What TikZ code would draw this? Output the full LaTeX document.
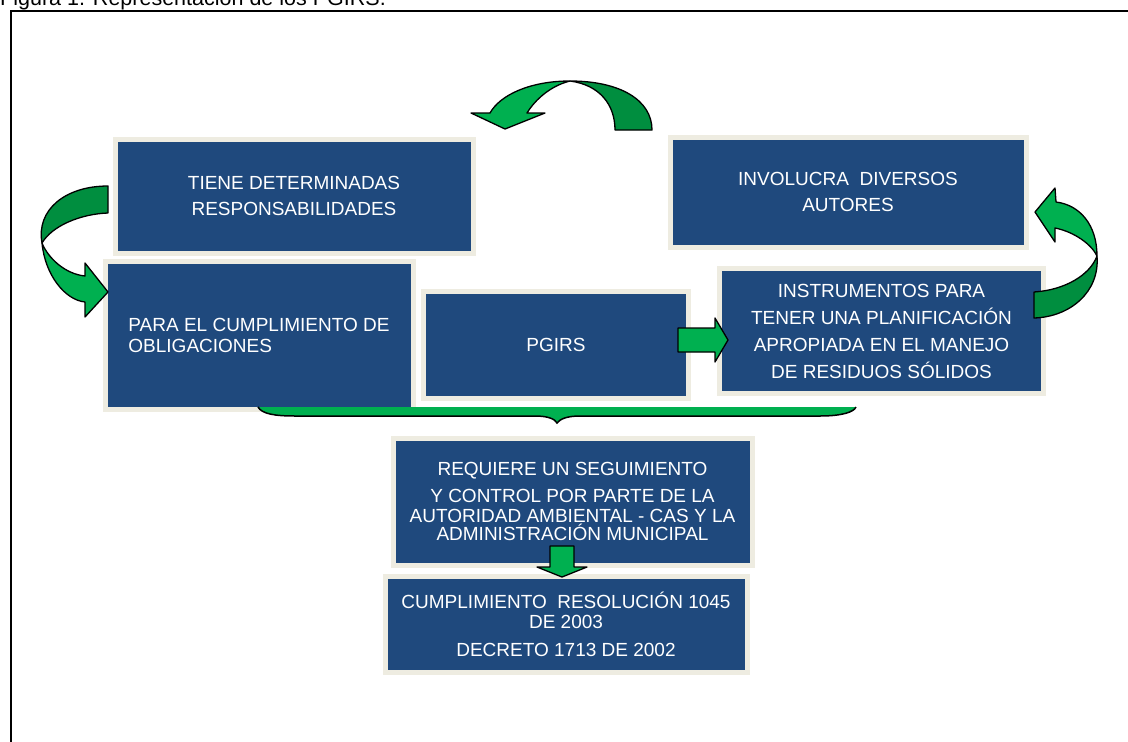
\documentclass[tikz,border=0pt]{standalone}
\usepackage{fontspec}
\setmainfont{Liberation Sans}
\definecolor{boxblue}{HTML}{1F497D}
\definecolor{boxrim}{HTML}{EEECE1}
\definecolor{lgreen}{HTML}{00B050}
\definecolor{dgreen}{HTML}{008E3F}
\tikzset{
  pbox/.style={draw=boxrim, line width=5pt, fill=boxblue, text=white, inner sep=0pt, align=center, font=\fontsize{19}{26}\selectfont},
  gfront/.style={draw=black, line width=1.3pt, line join=round, fill=lgreen},
  gback/.style={draw=black, line width=1.3pt, line join=round, fill=dgreen},
}
\begin{document}
\begin{tikzpicture}[x=1pt,y=-1pt]
\useasboundingbox (0,0) rectangle (1128,742);
\clip (0,0) rectangle (1128,742);
\fill[white] (0,0) rectangle (1128,742);
% title and frame
\node[anchor=base west, inner sep=0pt, font=\fontsize{21.5}{21.5}\selectfont] (title) at (0,5) {Figura 1. Representación de los PGIRS.};
\draw[line width=2pt] (11,760) -- (11,11) -- (1140,11);

% boxes
\node[pbox, minimum width=358pt, minimum height=114pt] (tiene) at (294,196) {TIENE DETERMINADAS\\RESPONSABILIDADES};
\node[pbox, minimum width=356pt, minimum height=110pt] (invol) at (848,192) {INVOLUCRA~~DIVERSOS\\AUTORES};
\node[pbox, minimum width=308pt, minimum height=148pt, align=left, font=\fontsize{19}{21}\selectfont] (para) at (259,335) {PARA EL CUMPLIMIENTO DE\\OBLIGACIONES};
\node[pbox, minimum width=265pt, minimum height=107pt] (pgirs) at (556,344.5) {PGIRS};
\node[pbox, minimum width=324pt, minimum height=125pt, font=\fontsize{19}{27}\selectfont] (instr) at (881.5,331) {INSTRUMENTOS PARA\\TENER UNA PLANIFICACIÓN\\APROPIADA EN EL MANEJO\\DE RESIDUOS SÓLIDOS};
\node[pbox, minimum width=359pt, minimum height=127pt, font=\fontsize{19}{19}\selectfont] (req) at (572.5,501.5) {REQUIERE UN SEGUIMIENTO\\[8pt]Y CONTROL POR PARTE DE LA\\[1pt]AUTORIDAD AMBIENTAL - CAS Y LA\\[-1pt]ADMINISTRACIÓN MUNICIPAL};
\node[pbox, minimum width=362pt, minimum height=96pt, font=\fontsize{19}{20}\selectfont] (cump) at (566,624.5) {CUMPLIMIENTO~~RESOLUCIÓN 1045\\DE 2003\\[8pt]DECRETO 1713 DE 2002};

% brace
\fill[lgreen] (258,407) .. controls (262,414) and (275,416) .. (295,416) -- (535,416) .. controls (548,416) and (555,419) .. (557,423) .. controls (560,419) and (567,416) .. (580,416) -- (820,416) .. controls (842,416) and (854,412) .. (856,407) -- cycle;
\draw[line width=1.5pt] (258,407) .. controls (262,414) and (275,416) .. (295,416) -- (535,416) .. controls (548,416) and (555,419) .. (557,423) .. controls (560,419) and (567,416) .. (580,416) -- (820,416) .. controls (842,416) and (854,412) .. (856,407);

% top curved arrow
\draw[gback] (615,130) -- (652,130) .. controls (652,100) and (620,81) .. (570,81) .. controls (600,85) and (615,105) .. (615,130) -- cycle;
\draw[gfront] (570,81) .. controls (530,81) and (500,95) .. (490,113) -- (471,113) -- (505,129) -- (545,113) -- (527,113) .. controls (535,100) and (550,86) .. (570,81) -- cycle;

% left curved arrow
\draw[gback] (108,186) -- (108,213) .. controls (80,214) and (52,226) .. (42,243) .. controls (36,210) and (65,186) .. (108,186) -- cycle;
\draw[gfront] (42,243) .. controls (45,275) and (65,300) .. (85,302) -- (85,317) -- (108,292) -- (85,263) -- (85,276) .. controls (65,274) and (48,258) .. (42,243) -- cycle;

% right curved arrow
\draw[gback] (1097,256) .. controls (1100,292) and (1070,317) .. (1034,318) -- (1034,292) .. controls (1065,290) and (1090,275) .. (1097,256) -- cycle;
\draw[gfront] (1097,256) .. controls (1097,225) and (1080,205) .. (1056,202) -- (1055,188) -- (1035,212) -- (1055,242) -- (1055,228) .. controls (1075,232) and (1092,245) .. (1097,256) -- cycle;

% straight block arrows
\draw[gfront] (678,328) -- (715,328) -- (715,318) -- (728,340) -- (715,362) -- (715,352) -- (678,352) -- cycle;
\draw[gfront] (550,546) -- (574,546) -- (574,567) -- (587,567) -- (562,577) -- (537,567) -- (550,567) -- cycle;
\end{tikzpicture}
\end{document}
